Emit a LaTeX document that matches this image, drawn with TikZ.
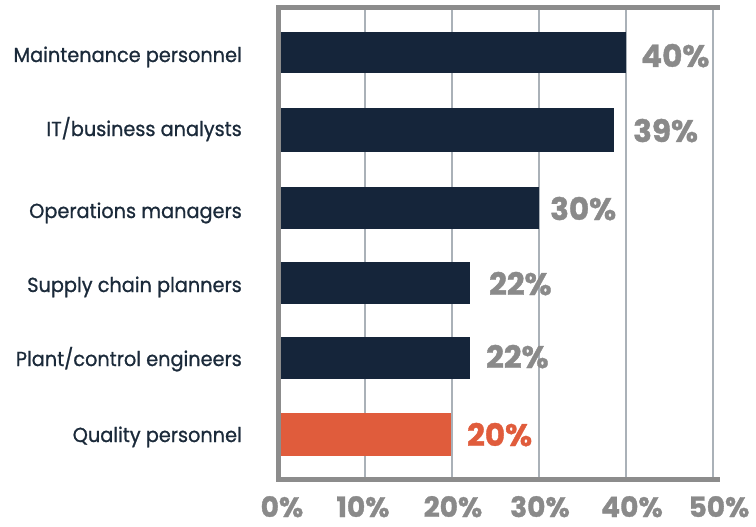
\documentclass[tikz,border=0pt]{standalone}
\usepackage{fontspec}
\setmainfont{Poppins}
\newfontfamily\catfont[FakeBold=0.9,FakeStretch=0.95]{Poppins}
\newfontfamily\numfont[FakeBold=1.2]{Poppins}
\definecolor{navy}{HTML}{15253A}
\definecolor{navytext}{HTML}{1B2A3A}
\definecolor{orng}{HTML}{E05C3C}
\definecolor{axisgray}{HTML}{8C8C8C}
\definecolor{gridgray}{HTML}{AAB1B8}
\definecolor{lblgray}{HTML}{8A8A8A}
\begin{document}
\begin{tikzpicture}[x=1pt,y=-1pt,
  cat/.style={anchor=base east,inner sep=0pt,text=navytext,font=\catfont\fontsize{20.3}{20.3}\selectfont},
  val/.style={anchor=base west,inner sep=0pt,text=lblgray,font=\numfont\fontsize{31}{31}\selectfont\bfseries},
  tick/.style={anchor=base,inner sep=0pt,text=lblgray,font=\numfont\fontsize{28}{28}\selectfont\bfseries},
  bar/.style={fill=navy,draw=none},
  grid/.style={draw=gridgray,line width=2pt},
  axis/.style={draw=axisgray,line width=5pt}]
\useasboundingbox (0,0) rectangle (756,527);
% grid
\foreach \i/\x in {1/365,2/452,3/539,4/626,5/713}{
  \draw[grid] (\x,8) -- (\x,479);
}
% bars
\fill[bar] (281,32) rectangle (626,73);
\fill[bar] (281,108) rectangle (614,152);
\fill[bar] (281,187) rectangle (539,229);
\fill[bar] (281,262) rectangle (470,304);
\fill[bar] (281,337) rectangle (470,379);
\fill[orng] (281,413) rectangle (451,456);
% axes
\coordinate (tl) at (278.5,8);
\coordinate (tr) at (717,8);
\coordinate (bl) at (278.5,479);
\coordinate (br) at (717,479);
\draw[axis,line cap=rect] (tr) -- (tl) -- (bl) -- (br);
% category labels
\node[cat] (c1) at (242,62) {Maintenance personnel};
\node[cat] (c2) at (242,136) {IT/business analysts};
\node[cat] (c3) at (242,218) {Operations managers};
\node[cat] (c4) at (242,292) {Supply chain planners};
\node[cat] (c5) at (242,366) {Plant/control engineers};
\node[cat] (c6) at (242,442) {Quality personnel};
% value labels
\node[val] (v1) at (641,67) {40\%};
\node[val] (v2) at (633,142) {39\%};
\node[val] (v3) at (550,220) {30\%};
\node[val] (v4) at (489,295) {22\%};
\node[val] (v5) at (486,368) {22\%};
\node[val,text=orng] (v6) at (467,446) {20\%};
% ticks
\node[tick] (t0) at (282,517) {0\%};
\node[tick] (t1) at (363,517) {10\%};
\node[tick] (t2) at (453,517) {20\%};
\node[tick] (t3) at (540,517) {30\%};
\node[tick] (t4) at (632,517) {40\%};
\node[tick] (t5) at (719,517) {50\%};
\end{tikzpicture}
\end{document}
